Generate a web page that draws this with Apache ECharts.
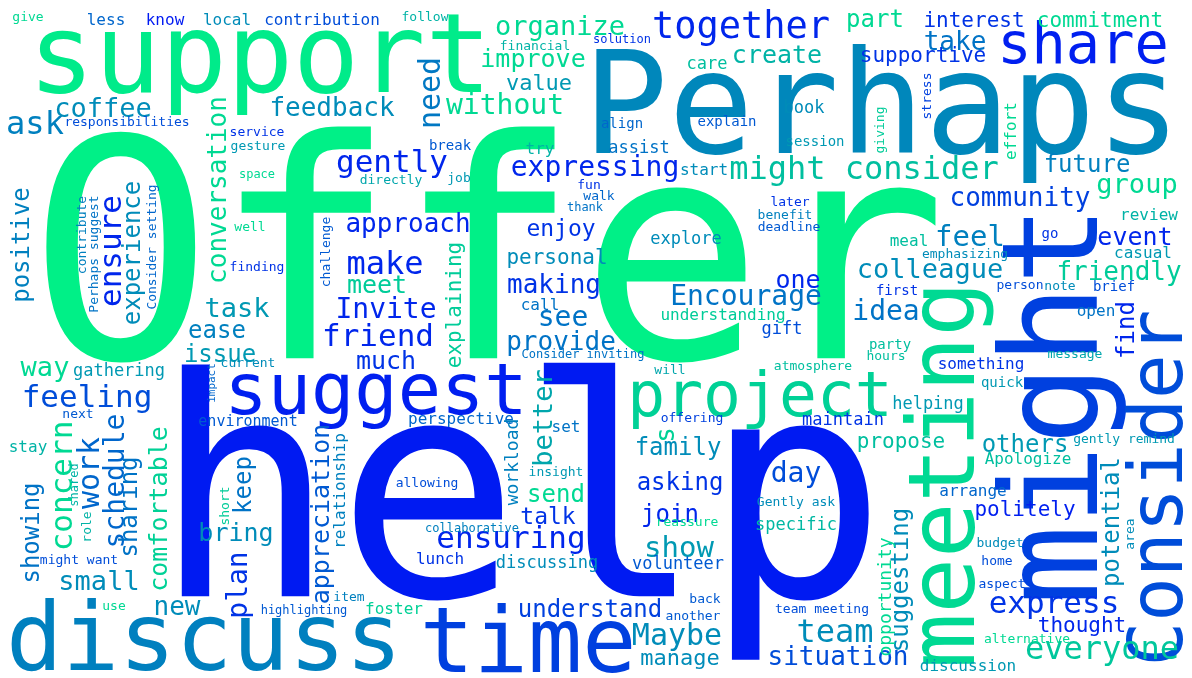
<!DOCTYPE html>
<html>
<head>
<meta charset="utf-8">
<script src="https://cdn.jsdelivr.net/npm/echarts@6/dist/echarts.min.js"></script>
<style>
  html, body { margin: 0; padding: 0; background: #fff; }
  #chart { width: 1192px; height: 678px; }
</style>
</head>
<body>
<div id="chart"></div>
<script>
// each row: [word, x, y, weight (font px), vertical (0/1), tone on the winter scale 0..1]
const wordsLarge = [
  ["Offer", 488, 279, 305, 0, 0.94],
  ["help", 520, 517, 305, 0, 0.1],
  ["Perhaps", 882, 116, 142, 0, 0.53],
  ["might", 1062, 405, 133, 1, 0.25],
  ["support", 260, 63, 110, 0, 0.92],
  ["discuss", 204, 646, 94, 0, 0.5],
  ["time", 528, 649, 90, 0, 0.25],
  ["meeting", 950, 475, 92, 1, 0.85],
  ["Consider", 1163, 488, 74, 1, 0.3],
  ["suggest", 376, 395, 72, 0, 0.12],
  ["project", 760, 400, 63, 0, 0.82],
  ["share", 1083, 48, 57, 0, 0.12]
];

const wordsMedium = [
  ["together", 741, 28, 37, 0, 0.15],
  ["might consider", 864, 171, 32, 0, 0.75],
  ["ask", 35, 126, 32, 0, 0.5],
  ["make", 385, 266, 32, 0, 0.15],
  ["team", 835, 634, 32, 0, 0.55],
  ["everyone", 1102, 651, 32, 0, 0.78],
  ["gently", 392, 164, 31, 0, 0.15],
  ["ensure", 113, 251, 31, 1, 0.15],
  ["feeling", 87, 399, 31, 0, 0.3],
  ["concern", 64, 486, 31, 1, 0.85],
  ["friend", 378, 338, 31, 0, 0.15],
  ["ensuring", 511, 540, 31, 0, 0.15],
  ["express", 1054, 605, 31, 0, 0.2],
  ["Maybe", 677, 637, 30, 0, 0.55],
  ["need", 432, 93, 30, 1, 0.47],
  ["work", 91, 473, 30, 1, 0.4],
  ["feel", 970, 238, 29, 0, 0.5],
  ["show", 679, 549, 29, 0, 0.6],
  ["without", 505, 107, 28, 0, 0.85],
  ["expressing", 595, 169, 28, 0, 0.15],
  ["Invite", 386, 311, 28, 0, 0.15],
  ["see", 563, 319, 28, 0, 0.45],
  ["Encourage", 746, 298, 28, 0, 0.45],
  ["idea", 886, 313, 28, 0, 0.45],
  ["schedule", 117, 481, 28, 1, 0.4],
  ["plan", 240, 585, 28, 1, 0.2],
  ["day", 796, 475, 28, 0, 0.3],
  ["organize", 560, 28, 27, 0, 0.85],
  ["coffee", 103, 110, 27, 0, 0.55],
  ["task", 237, 310, 27, 0, 0.6],
  ["way", 45, 369, 27, 0, 0.85],
  ["small", 99, 583, 27, 0, 0.55],
  ["group", 1137, 186, 27, 0, 0.85],
  ["colleague", 930, 271, 27, 0, 0.55],
  ["better", 545, 418, 27, 1, 0.65],
  ["feedback", 332, 109, 26, 0, 0.55],
  ["take", 955, 43, 26, 0, 0.45],
  ["conversation", 219, 190, 26, 1, 0.85],
  ["approach", 408, 225, 26, 0, 0.15],
  ["making", 554, 286, 26, 0, 0.2],
  ["provide", 561, 343, 26, 0, 0.45],
  ["community", 1020, 199, 26, 0, 0.25],
  ["friendly", 1119, 273, 26, 0, 0.8],
  ["new", 177, 608, 26, 0, 0.55],
  ["s", 667, 435, 26, 1, 0.82],
  ["situation", 838, 658, 26, 0, 0.3],
  ["improve", 533, 60, 25, 0, 0.85],
  ["create", 777, 56, 25, 0, 0.7],
  ["meet", 377, 286, 25, 0, 0.8],
  ["one", 798, 281, 25, 0, 0.15],
  ["event", 1135, 238, 25, 0, 0.15],
  ["bring", 236, 534, 25, 0, 0.55],
  ["comfortable", 160, 509, 25, 1, 0.82],
  ["appreciation", 322, 514, 25, 1, 0.35],
  ["much", 386, 362, 25, 0, 0.2],
  ["positive", 23, 245, 24, 1, 0.5],
  ["experience", 134, 253, 24, 1, 0.55],
  ["ease", 217, 332, 24, 0, 0.5],
  ["issue", 220, 356, 24, 0, 0.6],
  ["future", 1087, 166, 24, 0, 0.5],
  ["part", 875, 21, 24, 0, 0.85],
  ["family", 678, 449, 24, 0, 0.55],
  ["others", 1025, 446, 24, 0, 0.6],
  ["sharing", 131, 507, 24, 1, 0.45],
  ["showing", 33, 533, 24, 1, 0.45],
  ["keep", 245, 485, 24, 1, 0.45],
  ["send", 556, 496, 24, 0, 0.85],
  ["understand", 590, 611, 24, 0, 0.25],
  ["asking", 680, 484, 24, 0, 0.2],
  ["join", 670, 516, 24, 0, 0.15],
  ["find", 1128, 330, 24, 1, 0.15],
  ["potential", 1113, 522, 24, 1, 0.55],
  ["suggesting", 902, 580, 24, 1, 0.55],
  ["enjoy", 561, 230, 23, 0, 0.2],
  ["talk", 548, 518, 23, 0, 0.2],
  ["value", 539, 84, 22, 0, 0.6],
  ["manage", 680, 659, 22, 0, 0.55],
  ["interest", 974, 22, 21, 0, 0.2],
  ["commitment", 1100, 22, 21, 0, 0.85],
  ["supportive", 923, 57, 21, 0, 0.2],
  ["explaining", 456, 305, 21, 1, 0.8],
  ["personal", 557, 259, 21, 0, 0.55],
  ["propose", 901, 443, 21, 0, 0.75],
  ["politely", 1025, 511, 21, 0, 0.12],
  ["thought", 1082, 627, 21, 0, 0.15]
];

const wordsSmall = [
  ["give", 28, 18, 13, 0, 0.85],
  ["less", 106, 21, 16, 0, 0.4],
  ["know", 165, 21, 16, 0, 0.1],
  ["local", 227, 21, 16, 0, 0.55],
  ["contribution", 322, 21, 16, 0, 0.3],
  ["follow", 425, 18, 13, 0, 0.7],
  ["solution", 622, 40, 12, 0, 0.2],
  ["financial", 535, 47, 13, 0, 0.7],
  ["care", 707, 65, 17, 0, 0.75],
  ["book", 804, 109, 17, 0, 0.55],
  ["align", 622, 124, 14, 0, 0.4],
  ["explain", 727, 122, 14, 0, 0.35],
  ["session", 815, 142, 14, 0, 0.6],
  ["giving", 881, 130, 13, 1, 0.8],
  ["assist", 639, 149, 17, 0, 0.45],
  ["start", 704, 171, 16, 0, 0.55],
  ["stress", 928, 96, 13, 1, 0.25],
  ["effort", 1012, 131, 16, 1, 0.85],
  ["review", 1149, 216, 16, 0, 0.7],
  ["responsibilities", 127, 123, 13, 0, 0.3],
  ["service", 257, 133, 13, 0, 0.2],
  ["gesture", 258, 147, 13, 0, 0.6],
  ["space", 257, 175, 12, 0, 0.85],
  ["well", 250, 228, 13, 0, 0.85],
  ["break", 450, 146, 14, 0, 0.35],
  ["try", 540, 150, 16, 0, 0.7],
  ["directly", 391, 181, 13, 0, 0.65],
  ["job", 459, 179, 13, 0, 0.6],
  ["fun", 589, 186, 13, 0, 0.2],
  ["walk", 599, 197, 13, 0, 0.4],
  ["thank", 585, 208, 12, 0, 0.45],
  ["later", 790, 203, 13, 0, 0.2],
  ["benefit", 785, 216, 13, 0, 0.5],
  ["deadline", 789, 228, 13, 0, 0.35],
  ["challenge", 327, 252, 13, 1, 0.35],
  ["contribute", 83, 235, 13, 1, 0.5],
  ["Perhaps suggest", 95, 254, 13, 1, 0.45],
  ["Consider setting", 153, 247, 13, 1, 0.4],
  ["finding", 257, 268, 13, 0, 0.2],
  ["current", 248, 364, 13, 0, 0.55],
  ["impact", 212, 383, 11, 1, 0.4],
  ["gathering", 119, 372, 17, 0, 0.6],
  ["next", 78, 415, 13, 0, 0.35],
  ["environment", 248, 422, 15, 0, 0.35],
  ["stay", 28, 448, 16, 0, 0.7],
  ["explore", 686, 240, 17, 0, 0.55],
  ["meal", 909, 242, 16, 0, 0.75],
  ["go", 1050, 234, 14, 0, 0.2],
  ["emphasizing", 965, 255, 13, 0, 0.55],
  ["casual", 1143, 254, 16, 0, 0.6],
  ["person", 1020, 286, 13, 0, 0.3],
  ["note", 1060, 287, 13, 0, 0.55],
  ["brief", 1114, 287, 14, 0, 0.3],
  ["first", 897, 291, 14, 0, 0.2],
  ["open", 1096, 312, 16, 0, 0.45],
  ["call", 540, 306, 16, 0, 0.45],
  ["understanding", 723, 316, 16, 0, 0.8],
  ["gift", 782, 330, 17, 0, 0.3],
  ["party", 890, 345, 14, 0, 0.75],
  ["hours", 886, 357, 13, 0, 0.75],
  ["Consider inviting", 583, 355, 12, 0, 0.45],
  ["message", 1075, 355, 13, 0, 0.65],
  ["something", 981, 365, 16, 0, 0.2],
  ["atmosphere", 813, 367, 13, 0, 0.75],
  ["will", 670, 371, 13, 0, 0.65],
  ["quick", 1002, 383, 14, 0, 0.6],
  ["helping", 928, 405, 17, 0, 0.6],
  ["offering", 692, 419, 13, 0, 0.25],
  ["maintain", 843, 421, 17, 0, 0.2],
  ["perspective", 461, 420, 16, 0, 0.4],
  ["set", 566, 428, 16, 0, 0.45],
  ["gently remind", 1124, 440, 13, 0, 0.6],
  ["Apologize", 1028, 460, 16, 0, 0.75],
  ["workload", 513, 462, 18, 1, 0.5],
  ["relationship", 341, 491, 16, 1, 0.5],
  ["insight", 556, 473, 13, 0, 0.6],
  ["allowing", 427, 484, 13, 0, 0.3],
  ["shared", 75, 485, 12, 1, 0.7],
  ["short", 226, 506, 13, 1, 0.8],
  ["role", 88, 527, 13, 1, 0.7],
  ["arrange", 973, 492, 16, 0, 0.4],
  ["Gently ask", 796, 503, 13, 0, 0.55],
  ["reassure", 687, 523, 13, 0, 0.85],
  ["specific", 796, 526, 17, 0, 0.72],
  ["collaborative", 472, 529, 12, 0, 0.5],
  ["area", 1131, 534, 13, 1, 0.55],
  ["budget", 1000, 544, 13, 0, 0.55],
  ["lunch", 440, 560, 16, 0, 0.2],
  ["might want", 79, 561, 13, 0, 0.3],
  ["home", 997, 562, 13, 0, 0.3],
  ["discussing", 547, 564, 17, 0, 0.55],
  ["volunteer", 678, 565, 17, 0, 0.35],
  ["aspect", 1002, 585, 13, 0, 0.3],
  ["opportunity", 886, 597, 18, 1, 0.85],
  ["item", 349, 598, 13, 0, 0.5],
  ["back", 705, 600, 13, 0, 0.35],
  ["use", 114, 607, 13, 0, 0.85],
  ["foster", 394, 610, 16, 0, 0.82],
  ["team meeting", 822, 610, 13, 0, 0.3],
  ["highlighting", 304, 611, 12, 0, 0.35],
  ["another", 693, 617, 13, 0, 0.35],
  ["alternative", 1027, 640, 13, 0, 0.85],
  ["discussion", 968, 667, 16, 0, 0.6]
];

// matplotlib "winter": blue (0,0,1) -> spring green (0,1,0.5)
function winter(t) {
  const g = Math.round(255 * t);
  const b = Math.round(255 - 127.5 * t);
  return "rgb(0," + g + "," + b + ")";
}

const allWords = wordsLarge.concat(wordsMedium, wordsSmall);

const data = allWords.map(([word, x, y, size, vertical, tone]) => ({
  name: word,
  value: [x, y],
  label: {
    fontSize: size,
    rotate: vertical ? 90 : 0,
    color: winter(tone)
  }
}));

const chart = echarts.init(document.getElementById("chart"));

chart.setOption({
  animation: false,
  backgroundColor: "#ffffff",
  grid: { left: 0, right: 0, top: 0, bottom: 0 },
  xAxis: { type: "value", min: 0, max: 1192, show: false },
  yAxis: { type: "value", min: 0, max: 678, inverse: true, show: false },
  series: [
    {
      type: "scatter",
      symbolSize: 0,
      silent: true,
      itemStyle: { opacity: 1 },
      data: data,
      label: {
        show: true,
        position: "inside",
        formatter: "{b}",
        opacity: 1,
        fontFamily: "DejaVu Sans Mono",
        fontWeight: "normal"
      }
    }
  ]
});
</script>
</body>
</html>
